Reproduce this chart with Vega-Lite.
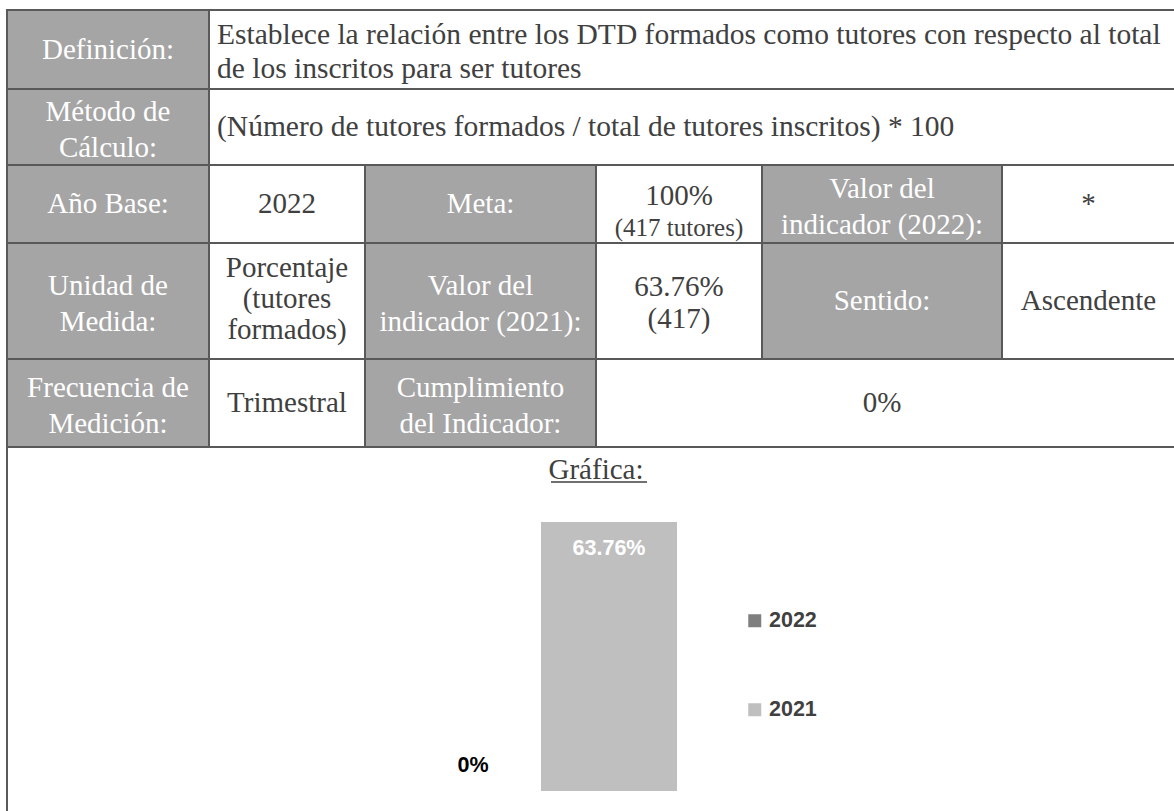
{
  "$schema": "https://vega.github.io/schema/vega-lite/v6.json",
  "width": 1174,
  "height": 811,
  "padding": 0,
  "autosize": {"type": "none"},
  "background": "#ffffff",
  "config": {"view": {"stroke": null}, "axis": {"disable": true}},
  "layer": [
    {
      "data": {
        "values": [
          {"r0": 0, "r1": 1, "c0": 0, "c1": 1, "kind": "label", "text": ["Definición:"]},
          {"r0": 0, "r1": 1, "c0": 1, "c1": 6, "kind": "desc", "text": ["Establece la relación entre los DTD formados como tutores con respecto al total", "de los inscritos para ser tutores"]},
          {"r0": 1, "r1": 2, "c0": 0, "c1": 1, "kind": "label", "text": ["Método de", "Cálculo:"]},
          {"r0": 1, "r1": 2, "c0": 1, "c1": 6, "kind": "desc", "text": ["(Número de tutores formados / total de tutores inscritos) * 100"]},
          {"r0": 2, "r1": 3, "c0": 0, "c1": 1, "kind": "label", "text": ["Año Base:"]},
          {"r0": 2, "r1": 3, "c0": 1, "c1": 2, "kind": "value", "text": ["2022"]},
          {"r0": 2, "r1": 3, "c0": 2, "c1": 3, "kind": "label", "text": ["Meta:"]},
          {"r0": 2, "r1": 3, "c0": 3, "c1": 4, "kind": "value", "text": ["100%"], "note": "(417 tutores)"},
          {"r0": 2, "r1": 3, "c0": 4, "c1": 5, "kind": "label", "text": ["Valor del", "indicador (2022):"]},
          {"r0": 2, "r1": 3, "c0": 5, "c1": 6, "kind": "value", "text": ["*"]},
          {"r0": 3, "r1": 4, "c0": 0, "c1": 1, "kind": "label", "text": ["Unidad de", "Medida:"]},
          {"r0": 3, "r1": 4, "c0": 1, "c1": 2, "kind": "value", "text": ["Porcentaje", "(tutores", "formados)"]},
          {"r0": 3, "r1": 4, "c0": 2, "c1": 3, "kind": "label", "text": ["Valor del", "indicador (2021):"]},
          {"r0": 3, "r1": 4, "c0": 3, "c1": 4, "kind": "value", "text": ["63.76%", "(417)"]},
          {"r0": 3, "r1": 4, "c0": 4, "c1": 5, "kind": "label", "text": ["Sentido:"]},
          {"r0": 3, "r1": 4, "c0": 5, "c1": 6, "kind": "value", "text": ["Ascendente"]},
          {"r0": 4, "r1": 5, "c0": 0, "c1": 1, "kind": "label", "text": ["Frecuencia de", "Medición:"]},
          {"r0": 4, "r1": 5, "c0": 1, "c1": 2, "kind": "value", "text": ["Trimestral"]},
          {"r0": 4, "r1": 5, "c0": 2, "c1": 3, "kind": "label", "text": ["Cumplimiento", "del Indicador:"]},
          {"r0": 4, "r1": 5, "c0": 3, "c1": 6, "kind": "value", "text": ["0%"]},
          {"r0": 5, "r1": 6, "c0": 0, "c1": 6, "kind": "chart", "text": ["Gráfica:"]}
        ]
      },
      "transform": [
        {"calculate": "(datum.c0 + datum.c1) / 2", "as": "cx"},
        {"calculate": "(datum.r0 + datum.r1) / 2", "as": "cy"}
      ],
      "encoding": {
        "x": {"field": "c0", "type": "quantitative", "scale": {"domain": [0, 1, 2, 3, 4, 5, 6], "range": [7, 209, 365, 596, 762, 1002, 1175], "zero": false, "nice": false}, "axis": null},
        "y": {"field": "r0", "type": "quantitative", "scale": {"domain": [0, 1, 2, 3, 4, 5, 6], "range": [10, 89, 165, 243, 359, 447, 815], "zero": false, "nice": false}, "axis": null}
      },
      "layer": [
        {
          "mark": {"type": "rect", "strokeWidth": 0},
          "encoding": {
            "x2": {"field": "c1"},
            "y2": {"field": "r1"},
            "fill": {"field": "kind", "type": "nominal", "scale": {"domain": ["label", "value", "desc", "chart"], "range": ["#a5a5a5", "#ffffff", "#ffffff", "#ffffff"]}, "legend": null}
          }
        },
        {
          "mark": {"type": "rect", "fill": null, "fillOpacity": 0, "stroke": "#595959", "strokeWidth": 2},
          "encoding": {"x2": {"field": "c1"}, "y2": {"field": "r1"}}
        },
        {
          "transform": [{"filter": "datum.kind == 'label' && length(datum.text) == 1"}],
          "mark": {"type": "text", "font": "Liberation Serif", "fontSize": 29, "color": "#ffffff", "baseline": "middle", "align": "center"},
          "encoding": {"x": {"field": "cx", "type": "quantitative"}, "y": {"field": "cy", "type": "quantitative"}, "text": {"field": "text", "type": "nominal"}}
        },
        {
          "transform": [{"filter": "datum.kind == 'label' && length(datum.text) == 2"}],
          "mark": {"type": "text", "font": "Liberation Serif", "fontSize": 29, "color": "#ffffff", "lineHeight": 36, "baseline": "middle", "align": "center", "dy": -15},
          "encoding": {"x": {"field": "cx", "type": "quantitative"}, "y": {"field": "cy", "type": "quantitative"}, "text": {"field": "text", "type": "nominal"}}
        },
        {
          "transform": [{"filter": "datum.kind == 'value' && !datum.note && length(datum.text) == 1"}],
          "mark": {"type": "text", "font": "Liberation Serif", "fontSize": 29, "color": "#404040", "baseline": "middle", "align": "center"},
          "encoding": {"x": {"field": "cx", "type": "quantitative"}, "y": {"field": "cy", "type": "quantitative"}, "text": {"field": "text", "type": "nominal"}}
        },
        {
          "transform": [{"filter": "datum.kind == 'value' && !datum.note && length(datum.text) == 2"}],
          "mark": {"type": "text", "font": "Liberation Serif", "fontSize": 29, "color": "#404040", "lineHeight": 32, "baseline": "middle", "align": "center", "dy": -14},
          "encoding": {"x": {"field": "cx", "type": "quantitative"}, "y": {"field": "cy", "type": "quantitative"}, "text": {"field": "text", "type": "nominal"}}
        },
        {
          "transform": [{"filter": "datum.kind == 'value' && !datum.note && length(datum.text) == 3"}],
          "mark": {"type": "text", "font": "Liberation Serif", "fontSize": 29, "color": "#404040", "lineHeight": 31, "baseline": "middle", "align": "center", "dy": -33},
          "encoding": {"x": {"field": "cx", "type": "quantitative"}, "y": {"field": "cy", "type": "quantitative"}, "text": {"field": "text", "type": "nominal"}}
        },
        {
          "transform": [{"filter": "datum.kind == 'value' && datum.note"}],
          "mark": {"type": "text", "font": "Liberation Serif", "fontSize": 29, "color": "#404040", "baseline": "middle", "align": "center", "dy": -8},
          "encoding": {"x": {"field": "cx", "type": "quantitative"}, "y": {"field": "cy", "type": "quantitative"}, "text": {"field": "text", "type": "nominal"}}
        },
        {
          "transform": [{"filter": "datum.kind == 'value' && datum.note"}],
          "mark": {"type": "text", "font": "Liberation Serif", "fontSize": 25, "color": "#404040", "baseline": "middle", "align": "center", "dy": 24},
          "encoding": {"x": {"field": "cx", "type": "quantitative"}, "y": {"field": "cy", "type": "quantitative"}, "text": {"field": "note", "type": "nominal"}}
        },
        {
          "transform": [{"filter": "datum.kind == 'desc' && length(datum.text) == 1"}],
          "mark": {"type": "text", "font": "Liberation Serif", "fontSize": 29.5, "color": "#404040", "baseline": "middle", "align": "left", "dx": 8},
          "encoding": {"y": {"field": "cy", "type": "quantitative"}, "text": {"field": "text", "type": "nominal"}}
        },
        {
          "transform": [{"filter": "datum.kind == 'desc' && length(datum.text) == 2"}],
          "mark": {"type": "text", "font": "Liberation Serif", "fontSize": 29.5, "color": "#404040", "lineHeight": 34, "baseline": "middle", "align": "left", "dx": 8, "dy": -15},
          "encoding": {"y": {"field": "cy", "type": "quantitative"}, "text": {"field": "text", "type": "nominal"}}
        },
        {
          "transform": [{"filter": "datum.kind == 'chart'"}],
          "mark": {"type": "text", "font": "Liberation Serif", "fontSize": 29, "color": "#404040", "baseline": "top", "align": "center", "dy": 9},
          "encoding": {"x": {"field": "cx", "type": "quantitative"}, "text": {"field": "text", "type": "nominal"}}
        },
        {
          "transform": [{"filter": "datum.kind == 'chart'"}],
          "mark": {"type": "rule", "color": "#404040", "strokeWidth": 1.5, "xOffset": -45, "x2Offset": 51, "yOffset": 35},
          "encoding": {"x": {"field": "cx", "type": "quantitative"}, "x2": {"field": "cx"}}
        }
      ]
    },
    {
      "data": {
        "values": [
          {"year": "2022", "value": 0, "label": "0%"},
          {"year": "2021", "value": 63.76, "label": "63.76%"}
        ]
      },
      "encoding": {
        "x": {"field": "year", "type": "nominal", "sort": ["2022", "2021"], "scale": {"range": [405, 677], "paddingInner": 0, "paddingOuter": 0}, "axis": null},
        "y": {"field": "value", "type": "quantitative", "scale": {"domain": [0, 100], "range": [791, 369.2], "nice": false, "zero": true}, "axis": null}
      },
      "layer": [
        {
          "mark": {"type": "bar"},
          "encoding": {
            "color": {
              "field": "year", "type": "nominal",
              "scale": {"domain": ["2022", "2021"], "range": ["#7f7f7f", "#bfbfbf"]},
              "legend": {"orient": "none", "legendX": 744, "legendY": 610, "title": null, "symbolType": "square", "symbolSize": 169, "symbolStrokeWidth": 0, "labelFont": "Liberation Sans", "labelFontWeight": "bold", "labelFontSize": 21.5, "labelColor": "#404040", "rowPadding": 66, "labelOffset": 3.5, "padding": 0, "direction": "vertical", "labelLimit": 300}
            }
          }
        },
        {
          "transform": [{"filter": "datum.value > 0"}],
          "mark": {"type": "text", "font": "Liberation Sans", "fontWeight": "bold", "fontSize": 21.5, "color": "#ffffff", "baseline": "middle", "align": "center", "dy": 27},
          "encoding": {"text": {"field": "label", "type": "nominal"}}
        },
        {
          "transform": [{"filter": "datum.value == 0"}],
          "mark": {"type": "text", "font": "Liberation Sans", "fontWeight": "bold", "fontSize": 21.5, "color": "#000000", "baseline": "middle", "align": "center", "dy": -25},
          "encoding": {"text": {"field": "label", "type": "nominal"}}
        }
      ]
    }
  ],
  "resolve": {"scale": {"x": "independent", "y": "independent", "color": "independent"}}
}
